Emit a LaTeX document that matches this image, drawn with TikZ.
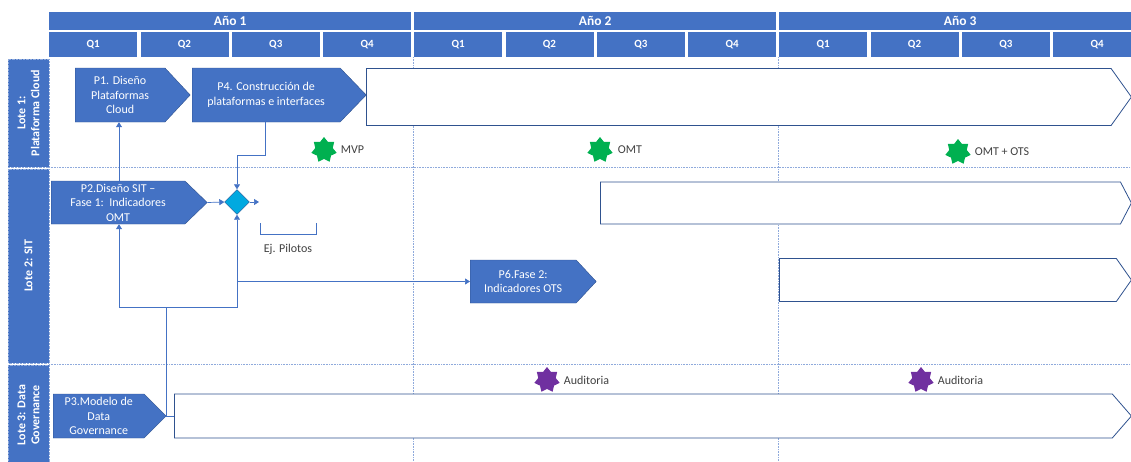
\documentclass[tikz,border=0pt]{standalone}
\usepackage{fontspec}
\setmainfont{Carlito}
\usetikzlibrary{shapes.geometric, shapes.symbols, arrows.meta, positioning, calc}
\usepackage{xcolor}
\definecolor{hdrblue}{HTML}{4472C4}
\definecolor{edgeblue}{HTML}{2F528F}
\definecolor{gridblue}{HTML}{8FAADC}
\definecolor{diacyan}{HTML}{00A9E0}
\definecolor{msgreen}{HTML}{00B050}
\definecolor{mspurple}{HTML}{7030A0}
\definecolor{lbltext}{HTML}{404040}

\begin{document}
\begin{tikzpicture}[
    x=1pt, y=-1pt,
    every node/.style={font=\fontsize{12}{14.5}\selectfont},
    hdr/.style={fill=hdrblue, text=white, font=\bfseries\fontsize{13.5}{16}\selectfont,
                minimum width=362pt, minimum height=18pt, inner sep=0pt},
    qtr/.style={fill=hdrblue, text=white, font=\bfseries\fontsize{11}{13}\selectfont,
                minimum width=88pt, minimum height=25pt, inner sep=0pt},
    lane/.style={fill=hdrblue, draw=gridblue, densely dotted, text=white, rotate=90, align=center,
                 font=\bfseries\fontsize{12}{14}\selectfont, minimum height=41pt, inner sep=0pt},
    grid/.style={gridblue, densely dotted, line width=0.6pt},
    proc/.style={signal, signal to=east, fill=hdrblue, draw=edgeblue, text=white,
                 align=center, inner sep=1pt, anchor=west},
    span/.style={signal, signal to=east, fill=white, draw=edgeblue, line width=0.8pt,
                 inner sep=0pt, anchor=west},
    dec/.style={diamond, fill=diacyan, draw=edgeblue, minimum width=25pt, minimum height=25pt, inner sep=0pt},
    mile/.style={star, star points=7, star point ratio=1.45, minimum size=26pt, inner sep=0pt},
    lbl/.style={text=lbltext, font=\fontsize{12}{14}\selectfont, inner sep=1pt},
    conn/.style={-{Triangle[length=5pt,width=6pt]}, hdrblue, line width=0.7pt},
    link/.style={hdrblue, line width=0.7pt}
]
    \useasboundingbox (0,0) rectangle (1131,461);
    \clip (0,0) rectangle (1131,461);

    % header: years and quarters
    \foreach \yr [count=\i from 0] in {1,2,3} {
        \node[hdr, anchor=west] (yr\yr) at ({49+365*\i},21) {Año \yr};
        \foreach \q [count=\j from 0] in {1,...,4}
            \node[qtr, anchor=west] (q\yr\q) at ({49+365*\i+91.3*\j},44.5) {Q\q};
    }

    % lanes
    \node[lane, minimum width=108pt] (lane1) at (28.5,113) {Lote 1:\\Plataforma Cloud};
    \node[lane, minimum width=194pt] (lane2) at (28.5,266) {Lote 2: SIT};
    \node[lane, minimum width=100pt] (lane3) at (28.5,415) {Lote 3: Data\\Governance};

    \draw[grid] (49,167) -- (1131,167);
    \draw[grid] (49,364) -- (1131,364);
    \draw[grid] (413,57) -- (413,461);
    \draw[grid] (778,57) -- (778,461);

    % lote 1
    \node[proc, minimum width=115pt, minimum height=54pt, signal pointer angle=94] (p1) at (75,95)
        {P1. Diseño\\Plataformas\\Cloud};
    \node[proc, minimum width=174pt, minimum height=54pt, signal pointer angle=92] (p4) at (192,95)
        {P4. Construcción de\\plataformas e interfaces};
    \node[span, minimum width=765pt, minimum height=57pt, signal pointer angle=109] (cloud) at (366,97) {};

    \node[mile, fill=msgreen] (mvp) at (324,150) {};
    \node[lbl, right=5pt of mvp] (mvplbl) {MVP};
    \node[mile, fill=msgreen] (omt) at (600,150) {};
    \node[lbl, right=6pt of omt] (omtlbl) {OMT};
    \node[mile, fill=msgreen] (ots) at (958,152) {};
    \node[lbl, right=5pt of ots] (otslbl) {OMT + OTS};

    % lote 2
    \node[proc, minimum width=156pt, minimum height=43pt, signal pointer angle=88] (p2) at (51,202.5)
        {P2.Diseño SIT --\\Fase 1:\ \ Indicadores\\OMT};
    \node[dec] (dia) at (237,202) {};
    \coordinate (dout) at (259,202);
    \node[span, minimum width=531pt, minimum height=42pt, signal pointer angle=125] (sit1) at (600,203) {};
    \node[proc, minimum width=126pt, minimum height=43pt, signal pointer angle=94] (p6) at (470,281.5)
        {P6.Fase 2:\\Indicadores OTS};
    \node[span, minimum width=352pt, minimum height=43pt, signal pointer angle=110] (sit2) at (779,280) {};

    \draw[link] (260,223) -- (260,234) -- (316,234) -- (316,223);
    \node[lbl] (pil) at (288,249) {Ej. Pilotos};

    % lote 3
    \node[proc, minimum width=113pt, minimum height=44pt, signal pointer angle=90] (p3) at (53,416)
        {P3.Modelo de\\Data\\Governance};
    \node[span, minimum width=957pt, minimum height=44pt, signal pointer angle=98] (dg) at (174,416) {};

    \node[mile, fill=mspurple] (aud1) at (547,380) {};
    \node[lbl, right=5pt of aud1] (aud1lbl) {Auditoria};
    \node[mile, fill=mspurple] (aud2) at (921,380) {};
    \node[lbl, right=5pt of aud2] (aud2lbl) {Auditoria};

    % connectors
    \coordinate (c1) at (119,0);
    \coordinate (bend1) at (265,155);
    \coordinate (junc) at (166,307);
    \draw[conn] (c1 |- p2.north) -- (c1 |- p1.south);
    \draw[conn] (bend1 |- p4.south) -- (bend1) -| (dia.north);
    \draw[conn] (p2.east) -- (dia.west);
    \draw[conn] (dia.east) -- (dout);
    \draw[link] (p3.east) -- (dg.west);
    \draw[conn] (p3.east) -- (p3.east |- junc) -| (c1 |- p2.south);
    \draw[conn] (p3.east |- junc) -| (dia.south);
    \draw[conn] (dia.south |- p6.west) -- (p6.west);
\end{tikzpicture}
\end{document}
